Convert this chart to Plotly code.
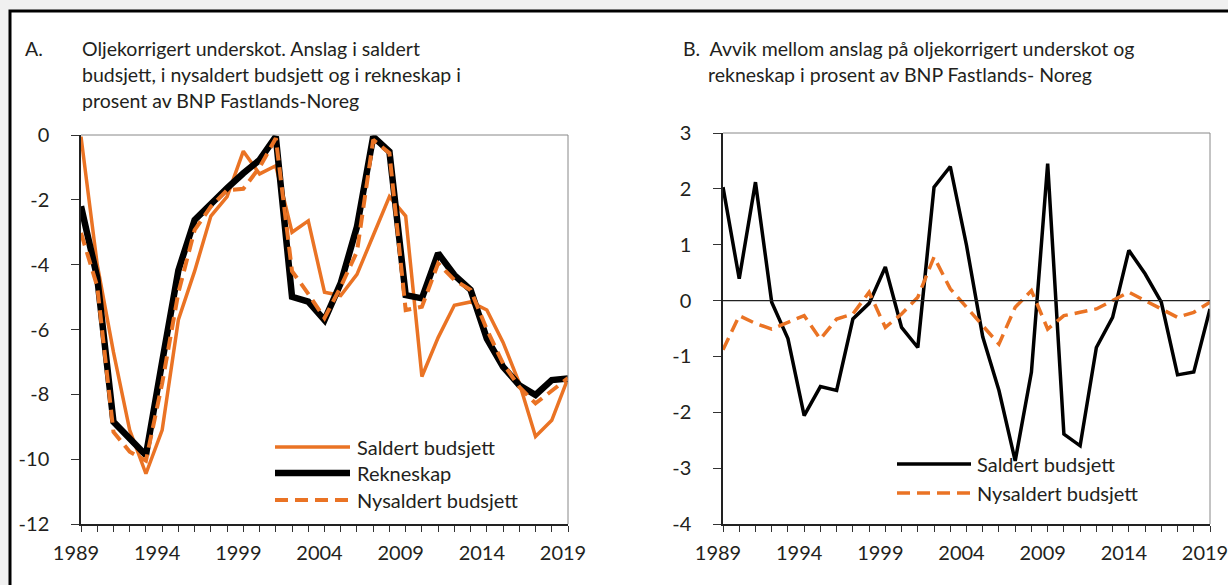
import plotly.graph_objects as go

W, H = 1228, 585

years = list(range(1989, 2020))

# Panel A: oil-corrected deficit, % of mainland GDP
saldert_a = [-0.05, -4.0, -6.7, -9.1, -10.45, -9.1, -5.7, -4.2, -2.5, -1.9, -0.5,
             -1.2, -0.95, -3.0, -2.65, -4.85, -4.95, -4.3, -3.1, -1.9, -2.5,
             -7.45, -6.25, -5.25, -5.15, -5.4, -6.4, -7.65, -9.3, -8.8, -7.5]
rekneskap_a = [-2.2, -4.4, -8.85, -9.35, -9.88, -7.0, -4.17, -2.62, -2.1, -1.64, -1.18,
               -0.77, -0.05, -4.99, -5.14, -5.71, -4.57, -2.83, -0.05, -0.51, -4.94,
               -5.04, -3.65, -4.32, -4.78, -6.28, -7.15, -7.72, -8.02, -7.56, -7.51]
nysaldert_a = [-3.02, -4.67, -9.16, -9.77, -10.05, -7.66, -4.86, -2.93, -2.21, -1.7, -1.66,
               -1.0, -0.1, -4.2, -4.9, -5.65, -4.68, -3.6, -0.15, -0.56, -5.4,
               -5.3, -3.96, -4.47, -4.78, -6.0, -7.05, -7.77, -8.28, -7.87, -7.5]

# Panel B: deviation from accounts
saldert_b = [2.03, 0.39, 2.12, -0.03, -0.68, -2.06, -1.54, -1.61, -0.33, -0.05, 0.6,
             -0.48, -0.84, 2.03, 2.4, 0.99, -0.65, -1.61, -2.87, -1.28, 2.45,
             -2.39, -2.6, -0.84, -0.3, 0.9, 0.48, -0.03, -1.33, -1.28, -0.15]
nysaldert_b = [-0.88, -0.27, -0.41, -0.51, -0.39, -0.27, -0.69, -0.33, -0.24, 0.15, -0.48,
               -0.24, 0.06, 0.78, 0.21, -0.12, -0.45, -0.78, -0.12, 0.18, -0.51,
               -0.27, -0.21, -0.15, 0.0, 0.15, 0.0, -0.15, -0.3, -0.21, -0.03]

yticks_a = [-12, -10, -8, -6, -4, -2, 0]
yticks_b = [-4, -3, -2, -1, 0, 1, 2, 3]
xticks = [1989, 1994, 1999, 2004, 2009, 2014, 2019]

title_a = ["Oljekorrigert underskot. Anslag i saldert",
           "budsjett, i nysaldert budsjett og i rekneskap i",
           "prosent av BNP Fastlands-Noreg"]
title_b = ["B.  Avvik mellom anslag på oljekorrigert underskot og",
           "rekneskap i prosent av BNP Fastlands- Noreg"]

ORANGE = "#EA7324"
TXT = "#231f20"
FONT = "Lato"
DASH = "13px,7px"

def px(x):
    return x / W

def py(y):
    return 1 - y / H

fig = go.Figure()

fig.add_trace(go.Scatter(x=years, y=saldert_a, mode="lines", name="Saldert budsjett",
                         line=dict(color=ORANGE, width=3.5), xaxis="x", yaxis="y"))
fig.add_trace(go.Scatter(x=years, y=rekneskap_a, mode="lines", name="Rekneskap",
                         line=dict(color="black", width=6.5), xaxis="x", yaxis="y"))
fig.add_trace(go.Scatter(x=years, y=nysaldert_a, mode="lines", name="Nysaldert budsjett",
                         line=dict(color=ORANGE, width=4, dash=DASH), xaxis="x", yaxis="y"))
fig.add_trace(go.Scatter(x=years, y=saldert_b, mode="lines", name="Saldert budsjett",
                         line=dict(color="black", width=3.5), xaxis="x2", yaxis="y2"))
fig.add_trace(go.Scatter(x=years, y=nysaldert_b, mode="lines", name="Nysaldert budsjett",
                         line=dict(color=ORANGE, width=3.5, dash=DASH), xaxis="x2", yaxis="y2"))

tickfont = dict(family=FONT, size=20, color=TXT)

def xaxis_cfg(domain, anchor):
    return dict(domain=domain, anchor=anchor, range=[1989, 2019], tickvals=xticks,
                ticktext=[str(v) for v in xticks], ticks="outside", ticklen=6,
                tickcolor="#333", tickwidth=1, showline=True, linecolor="#222",
                linewidth=1.5, showgrid=False, zeroline=False, tickfont=tickfont,
                ticklabelstandoff=4, ticklabelshift=-5, automargin=False,
                ticklabeloverflow="allow",
                minor=dict(dtick=1, tick0=1989, ticks="outside", ticklen=6,
                           tickcolor="#333", tickwidth=1, showgrid=False))

def yaxis_cfg(domain, anchor, rng, vals):
    return dict(domain=domain, anchor=anchor, range=rng, tickvals=vals,
                ticktext=[str(v) for v in vals], ticks="outside", ticklen=8,
                tickcolor="#333", tickwidth=1, showline=True, linecolor="#222",
                linewidth=1.5, showgrid=False, zeroline=False, tickfont=tickfont,
                ticklabelstandoff=18, automargin=False, ticklabeloverflow="allow")

layout = dict(
    width=W, height=H,
    margin=dict(l=0, r=0, t=0, b=0, pad=0, autoexpand=False),
    paper_bgcolor="#f0f0f0",
    plot_bgcolor="white",
    showlegend=False,
    xaxis=xaxis_cfg([px(81), px(568)], "y"),
    yaxis=yaxis_cfg([py(524), py(135)], "x", [-12, 0], yticks_a),
    xaxis2=xaxis_cfg([px(723), px(1210)], "y2"),
    yaxis2=yaxis_cfg([py(524), py(133)], "x2", [-4, 3], yticks_b),
)
fig.update_layout(**layout)

shapes = [
    # outer framed white card
    dict(type="rect", xref="paper", yref="paper", x0=px(10), x1=px(1240), y0=py(600), y1=py(11),
         line=dict(color="black", width=3), fillcolor="white", layer="below"),
    # light top/right frame of plot areas
    dict(type="line", xref="x domain", yref="y domain", x0=0, x1=1, y0=1, y1=1,
         line=dict(color="#888", width=1)),
    dict(type="line", xref="x domain", yref="y domain", x0=1, x1=1, y0=0, y1=1,
         line=dict(color="#888", width=1)),
    dict(type="line", xref="x2 domain", yref="y2 domain", x0=0, x1=1, y0=1, y1=1,
         line=dict(color="#888", width=1)),
    dict(type="line", xref="x2 domain", yref="y2 domain", x0=1, x1=1, y0=0, y1=1,
         line=dict(color="#888", width=1)),
    # zero line in panel B
    dict(type="line", xref="x2 domain", yref="y2", x0=0, x1=1, y0=0, y1=0,
         line=dict(color="#222", width=1.2)),
]

annotations = []
tfont = dict(family=FONT, size=19.5, color=TXT)
annotations.append(dict(text="A.", x=px(23), y=py(48), xref="paper", yref="paper",
                        xanchor="left", yanchor="middle", showarrow=False, font=tfont))
for i, line in enumerate(title_a):
    annotations.append(dict(text=line, x=px(80), y=py(48 + 26 * i), xref="paper", yref="paper",
                            xanchor="left", yanchor="middle", showarrow=False, font=tfont))
annotations.append(dict(text=title_b[0], x=px(681), y=py(48), xref="paper", yref="paper",
                        xanchor="left", yanchor="middle", showarrow=False, font=tfont))
annotations.append(dict(text=title_b[1], x=px(706), y=py(74), xref="paper", yref="paper",
                        xanchor="left", yanchor="middle", showarrow=False, font=tfont))

# Legends drawn as line samples + text
lfont = dict(family=FONT, size=20, color=TXT)
leg_a = [("Saldert budsjett", dict(color=ORANGE, width=3.5), 447),
         ("Rekneskap", dict(color="black", width=6.5), 473),
         ("Nysaldert budsjett", dict(color=ORANGE, width=4, dash=DASH), 500)]
for name, ln, yy in leg_a:
    shapes.append(dict(type="line", xref="paper", yref="paper", x0=px(275), x1=px(350),
                       y0=py(yy), y1=py(yy), line=ln))
    annotations.append(dict(text=name, x=px(355), y=py(yy), xref="paper", yref="paper",
                            xanchor="left", yanchor="middle", showarrow=False, font=lfont))
leg_b = [("Saldert budsjett", dict(color="black", width=3.5), 464),
         ("Nysaldert budsjett", dict(color=ORANGE, width=3.5, dash=DASH), 493)]
for name, ln, yy in leg_b:
    shapes.append(dict(type="line", xref="paper", yref="paper", x0=px(897), x1=px(971),
                       y0=py(yy), y1=py(yy), line=ln))
    annotations.append(dict(text=name, x=px(975), y=py(yy), xref="paper", yref="paper",
                            xanchor="left", yanchor="middle", showarrow=False, font=lfont))

fig.update_layout(shapes=shapes, annotations=annotations)
fig.write_html("out.html", config={"displayModeBar": False},
               post_script="document.body.style.margin='0';document.body.style.overflow='hidden';")
